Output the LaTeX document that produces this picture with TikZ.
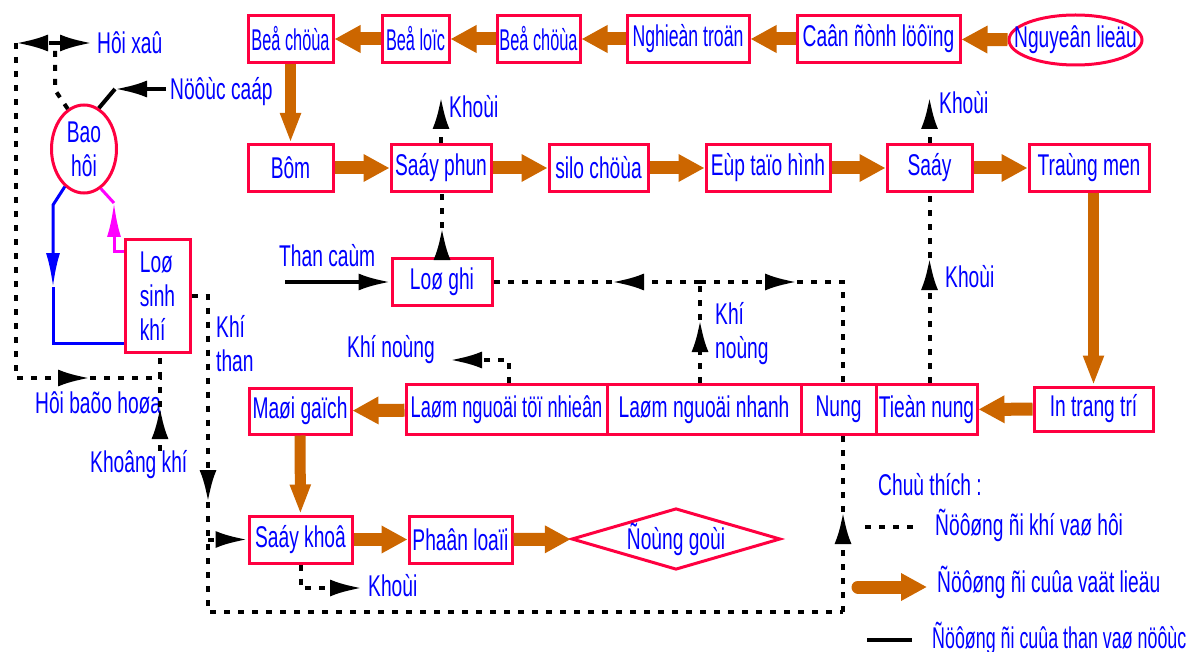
\documentclass[tikz,border=0pt]{standalone}
\usepackage{fontspec}
\setmainfont{Liberation Sans}[FakeStretch=0.64]
\usetikzlibrary{arrows.meta,shapes.geometric}
\definecolor{boxred}{RGB}{255,0,64}
\definecolor{matbrown}{RGB}{204,102,0}
\definecolor{steampink}{RGB}{255,0,255}
\newcommand{\sqz}[2]{\scalebox{#1}[1]{#2}}

\begin{document}
\begin{tikzpicture}[x=1pt,y=-1pt,>={Latex[length=32pt,width=17pt]},
                    font=\fontsize{30}{34}\selectfont]
  \tikzstyle{box}=[draw=boxred,line width=3pt,text=blue,inner sep=0pt,minimum height=47pt]
  \tikzstyle{oval}=[box,ellipse]
  \tikzstyle{lbl}=[text=blue,inner sep=0pt,anchor=west,align=left]
  \tikzstyle{gas}=[draw=black,line width=4pt,dash pattern=on 6pt off 8pt]
  \tikzstyle{coal}=[draw=black,line width=4pt]
  \tikzstyle{water}=[draw=blue,line width=3pt,>={Latex[length=34pt,width=14pt]}]
  \tikzstyle{steam}=[water,draw=steampink]
  \tikzstyle{mat}=[draw=matbrown,line width=13pt,-{Triangle[length=26pt,width=26pt]}]
  \tikzstyle{matv}=[draw=matbrown,line width=11pt,-{Triangle[length=30pt,width=19pt]}]

  \useasboundingbox (0,0) rectangle (1198,652);

  \node[box,minimum width=85pt]  (bchua1) at (290.5,39)  {\sqz{0.85}{Beå chöùa}};
  \node[box,minimum width=67pt]  (bloc)   at (415.5,39)  {\sqz{0.85}{Beå loïc}};
  \node[box,minimum width=83pt]  (bchua2) at (538.5,39)  {\sqz{0.85}{Beå chöùa}};
  \node[box,minimum width=122pt] (nghien) at (688,39)    {\sqz{0.92}{Nghieàn troän}};
  \node[box,minimum width=163pt] (dluong) at (878.5,39)  {Caân ñònh löôïng};
  \node[oval,minimum width=133pt,minimum height=50pt] (nlieu) at (1075.5,40) {\makebox[0pt]{Nguyeân lieäu}};

  \node[box,minimum width=85pt]  (bom)    at (290.5,168) {Bôm};
  \node[box,minimum width=100pt] (sphun)  at (441,168)   {Saáy phun};
  \node[box,minimum width=99pt]  (silo)   at (598.5,168) {silo chöùa};
  \node[box,minimum width=124pt] (eptao)  at (768,168)   {Eùp taïo hình};
  \node[box,minimum width=85pt]  (say)    at (929.5,168) {Saáy};
  \node[box,minimum width=120pt] (tmen)   at (1089,168)  {Traùng men};

  \node[box,minimum width=100pt] (loghi)  at (442,282)   {Loø ghi};
  \node[box,minimum width=65pt,minimum height=112pt,align=left] (lsinh) at (157.5,296) {Loø\\sinh\\khí};
  \node[oval,minimum width=65pt,minimum height=88pt,align=center] (bao) at (84,149) {Bao\\hôi};

  \node[box,minimum width=102pt,minimum height=46pt] (mai)   at (300,411)     {Maøi gaïch};
  \node[box,minimum width=201pt,minimum height=50pt] (lntn)  at (506.5,409.5) {\sqz{0.95}{Laøm nguoäi töï nhieân}};
  \node[box,minimum width=194pt,minimum height=50pt] (lnn)   at (704,409.5)   {Laøm nguoäi nhanh};
  \node[box,minimum width=75pt,minimum height=50pt]  (nung)  at (838.5,409.5) {Nung};
  \node[box,minimum width=101pt,minimum height=50pt] (tnung) at (926.5,409.5) {Tieàn nung};
  \node[box,minimum width=119pt,minimum height=44pt] (intt)  at (1093.5,409)  {In trang trí};

  \node[box,minimum width=103pt] (skho)  at (300.5,539.5) {Saáy khoâ};
  \node[box,minimum width=103pt] (ploai) at (460.5,539.5) {Phaân loaïi};
  \node[box,diamond,aspect=3.4,minimum width=208pt,minimum height=60pt] (dgoi) at (676,539) {Ñoùng goùi};

  \node[lbl] (hxa)    at (97,43)   {Hôi xaû};
  \node[lbl] (ncap)   at (170,92)  {Nöôùc caáp};
  \node[lbl] (khoi1)  at (449,107) {Khoùi};
  \node[lbl] (khoi2)  at (939,103) {Khoùi};
  \node[lbl] (khoi3)  at (945,277) {Khoùi};
  \node[lbl] (khoi4)  at (368,586) {Khoùi};
  \node[lbl] (tcam)   at (279,256) {Than caùm};
  \node[lbl] (kthan)  at (216,344) {Khí\\than};
  \node[lbl] (knong1) at (347,350) {Khí noùng};
  \node[lbl] (knong2) at (715,334) {Khí\\noùng};
  \node[lbl] (hbao)   at (35,403)  {Hôi baõo hoøa};
  \node[lbl] (kkhi)   at (90,465)  {Khoâng khí};
  \node[lbl] (cthich) at (878,485) {Chuù thích :};
  \node[lbl] (leg1)   at (935,525) {Ñöôøng ñi khí vaø hôi};
  \node[lbl] (leg2)   at (937,582) {Ñöôøng ñi cuûa vaät lieäu};
  \node[lbl] (leg3)   at (932,638) {\sqz{0.93}{Ñöôøng ñi cuûa than vaø nöôùc}};

  \path (nlieu)  edge[mat] (dluong)
        (dluong) edge[mat] (nghien)
        (nghien) edge[mat] (bchua2)
        (bchua2) edge[mat] (bloc)
        (bloc)   edge[mat] (bchua1)
        (bom)    edge[mat] (sphun)
        (sphun)  edge[mat] (silo)
        (silo)   edge[mat] (eptao)
        (eptao)  edge[mat] (say)
        (say)    edge[mat] (tmen)
        (intt)   edge[mat] (tnung)
        (lntn)   edge[mat] (mai)
        (skho)   edge[mat] (ploai)
        (ploai)  edge[mat] (dgoi);
  \path (bchua1) edge[matv] (bom)
        (mai)    edge[matv] (skho);
  \draw[matv] (tmen.south -| intt) -- (intt.north);

  \coordinate (hxj) at (55,43);
  \coordinate (hxb) at (55,90);
  \coordinate (hxl) at (16,43);
  \coordinate (hbl) at (16,378);
  \coordinate (hba) at (90,378);
  \coordinate (hbr) at (160,378);
  \coordinate (kka) at (160,407);
  \draw[gas] (bao.112) -- (hxb) -- (hxj);
  \draw[gas,->] (hxj) -- ([xshift=-5pt]hxa.west);
  \draw[gas,->] (hxj) -- (hxl);
  \draw[gas,->] (hxl) -- (hbl) -- (hba);
  \draw[gas] (hba) -- (hbr) -- (hbr |- lsinh.south);
  \draw[gas,->] (hbr |- kkhi.north) -- (kka);
  \draw[gas] (kka) -- (hbr);

  \coordinate (kt2) at (208,502);
  \coordinate (kt3) at (208,539.5);
  \coordinate (kt4) at (208,612);
  \coordinate (kt5) at (843,612);
  \coordinate (kt6) at (843,512);
  \draw[gas,->] (lsinh.east) -| (kt2);
  \draw[gas] (kt2) -- (kt4) -- (kt5);
  \draw[gas,->] (kt3) -- (skho.west);
  \draw[gas,->] (kt5) -- (kt6);
  \draw[gas] (kt6) -- (kt6 |- nung.south);

  \coordinate (kn1) at (700,282);
  \coordinate (kn2) at (612,282);
  \coordinate (kn3) at (797,282);
  \coordinate (kn4) at (843,282);
  \coordinate (kn5) at (700,320);
  \draw[gas,->] (kn1 |- lnn.north) -- (kn5);
  \draw[gas] (kn5) -- (kn1);
  \draw[gas,->] (kn1) -- (kn2);
  \draw[gas] (kn2) -- (loghi.east);
  \draw[gas,->] (kn1) -- (kn3);
  \draw[gas] (kn3) -- (kn4) -- (kn4 |- nung.north);

  \coordinate (lg0) at (442,228);
  \draw[gas,->] (loghi.north) -- (lg0);
  \draw[gas] (lg0) -- (lg0 |- sphun.south);
  \coordinate (sp0) at (441,97);
  \draw[gas,->] (sphun.north) -- (sp0);
  \coordinate (sy0) at (929.5,97);
  \draw[gas,->] (say.north) -- (sy0);
  \coordinate (tn0) at (929.5,258);
  \draw[gas,->] (tn0 |- tnung.north) -- (tn0);
  \draw[gas] (tn0) -- (say.south);
  \coordinate (ln0) at (509,360);
  \coordinate (ln1) at (450,360);
  \draw[gas,->] (ln0 |- lntn.north) -- (ln0) -- (ln1);
  \coordinate (sk0) at (362,588);
  \draw[gas,->] (skho.south) |- (sk0);

  \coordinate (tc0) at (285,282);
  \draw[coal,->] (tc0) -- (loghi.west);
  \coordinate (nc0) at (166,89);
  \coordinate (nc1) at (115,89);
  \draw[coal,->] (nc0) -- (nc1);
  \draw[coal] (nc1) -- (bao.70);

  \coordinate (bl1) at (53,205);
  \coordinate (bl2) at (53,287);
  \coordinate (bl3) at (53,343);
  \draw[water,->] (bao.243) -- (bl1) -- (bl2);
  \draw[water] (bl2) -- (bl3) -- (bl3 -| lsinh.west);
  \coordinate (mg1) at (114,251);
  \coordinate (mg2) at (114,203);
  \draw[steam,->] (mg1 -| lsinh.west) -- (mg1) -- (mg2);
  \draw[steam] (mg2) -- (bao.293);

  \coordinate (la1) at (865,527);
  \coordinate (lb1) at (918,527);
  \draw[gas] (la1) -- (lb1);
  \coordinate (la2) at (858,587);
  \coordinate (lb2) at (927,587);
  \draw[mat,line cap=round] (la2) -- (lb2);
  \coordinate (la3) at (867,640);
  \coordinate (lb3) at (912,640);
  \draw[coal] (la3) -- (lb3);
\end{tikzpicture}
\end{document}
